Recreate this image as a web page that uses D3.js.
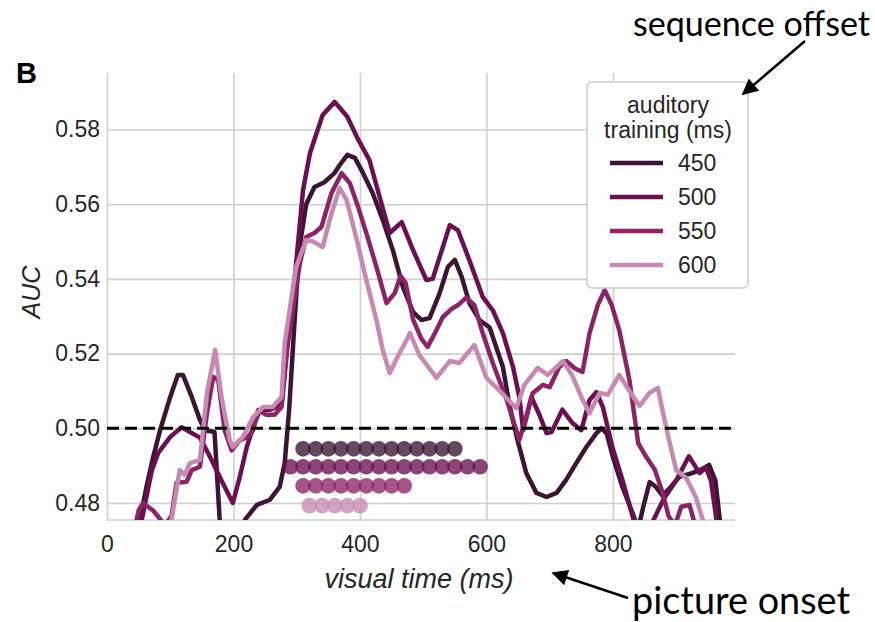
<!DOCTYPE html>
<html>
<head>
<meta charset="utf-8">
<script src="https://cdn.jsdelivr.net/npm/d3@7"></script>
<style>
  body { margin: 0; background: #fff; }
  svg { display: block; }
</style>
</head>
<body>
<svg id="chart" width="875" height="622"></svg>
<script>
// auditory training durations (legend entries)
const trainings = ["450", "500", "550", "600"];
const lineColors = ["#3b1531", "#6a1050", "#8a2466", "#c689b2"];

// AUC over visual time, [ms, auc]
const auc450 = [[40,0.465],[52,0.4755],[62,0.484],[73,0.4923],[84,0.4995],[100,0.5084],[112,0.5143],[120,0.5143],[134,0.5084],[147,0.5022],[155,0.4995],[170,0.499],[178,0.476],[186,0.465],
  [210,0.465],[218,0.4755],[237,0.4795],[257,0.4808],[273,0.4843],[281,0.4907],[288,0.505],[296,0.527],[304,0.548],[315,0.560],[328,0.5646],[344,0.5659],[360,0.5684],[368,0.5705],[380,0.5732],[392,0.5724],[404,0.5686],[420,0.563],[436,0.5558],[452,0.5477],[468,0.5378],[484,0.5311],[497,0.529],[510,0.5295],[526,0.5362],[539,0.5432],[550,0.5451],[561,0.5405],[573,0.5335],[589,0.529],[605,0.527],[626,0.5164],[637,0.5057],[649,0.4969],[663,0.488],[679,0.4827],[695,0.4816],[711,0.4827],[726,0.4862],[742,0.4907],[758,0.495],[774,0.4987],[782,0.5],[790,0.4987],[800,0.4923],[815,0.4843],[831,0.4773],[840,0.473],[848,0.479],[858,0.4856],[868,0.4843],[878,0.482],[890,0.484],[905,0.487],[925,0.488],[940,0.489],[952,0.4902],[962,0.486],[970,0.474],[980,0.465]];
const auc500 = [[45,0.465],[55,0.4755],[71,0.4888],[81,0.4934],[100,0.4977],[118,0.5003],[131,0.499],[147,0.4975],[163,0.4923],[181,0.486],[199,0.480],[210,0.487],[221,0.495],[231,0.5003],[242,0.505],[258,0.505],[268,0.5057],[277,0.508],[284,0.521],[297,0.5405],[310,0.5638],[321,0.5737],[341,0.5839],[360,0.5874],[380,0.5834],[396,0.5777],[415,0.5718],[431,0.562],[447,0.5523],[466,0.5552],[484,0.5477],[505,0.5397],[515,0.540],[542,0.5544],[555,0.553],[573,0.545],[594,0.5352],[610,0.5316],[626,0.5255],[642,0.5164],[652,0.5084],[658,0.4995],[671,0.5084],[684,0.5035],[695,0.4987],[703,0.499],[720,0.505],[736,0.5014],[750,0.4995],[763,0.5076],[774,0.5097],[784,0.5057],[799,0.495],[815,0.4862],[831,0.4765],[845,0.468],[860,0.474],[880,0.481],[900,0.486],[920,0.4925],[937,0.488],[947,0.4895],[955,0.486],[965,0.474],[975,0.465]];
const auc550 = [[40,0.470],[50,0.478],[57,0.480],[73,0.478],[92,0.474],[102,0.4765],[110,0.4854],[126,0.4857],[134,0.4888],[147,0.4897],[158,0.504],[168,0.5138],[176,0.5129],[186,0.4995],[197,0.4941],[210,0.4968],[223,0.4977],[231,0.4995],[239,0.5049],[252,0.5036],[265,0.5036],[276,0.5057],[286,0.5228],[305,0.5442],[315,0.5512],[328,0.5523],[339,0.5539],[355,0.563],[371,0.5683],[384,0.5656],[397,0.5593],[412,0.5512],[426,0.5432],[442,0.5335],[455,0.5362],[464,0.5408],[472,0.539],[484,0.5291],[497,0.524],[507,0.5218],[520,0.526],[531,0.5298],[545,0.532],[555,0.533],[568,0.535],[581,0.533],[594,0.5255],[610,0.5175],[632,0.5076],[652,0.4969],[663,0.503],[673,0.5094],[689,0.5116],[700,0.511],[715,0.5164],[726,0.518],[740,0.516],[752,0.5151],[763,0.5255],[776,0.533],[787,0.537],[798,0.533],[810,0.5263],[826,0.513],[840,0.496],[852,0.4925],[866,0.489],[878,0.483],[888,0.4765],[898,0.474],[908,0.479],[921,0.4795],[930,0.474],[940,0.468]];
const auc600 = [[90,0.468],[102,0.4755],[115,0.4888],[123,0.4875],[131,0.4907],[147,0.4915],[158,0.5094],[171,0.521],[181,0.5084],[194,0.4968],[199,0.495],[215,0.4977],[231,0.503],[247,0.5057],[262,0.5057],[276,0.5084],[281,0.5228],[299,0.5432],[315,0.5504],[326,0.550],[341,0.5485],[355,0.5576],[368,0.5643],[379,0.5611],[395,0.5504],[410,0.5397],[426,0.529],[436,0.521],[447,0.5148],[462,0.520],[474,0.5237],[479,0.5255],[494,0.5196],[521,0.5135],[542,0.518],[557,0.5175],[581,0.5223],[600,0.5135],[621,0.51],[647,0.5054],[660,0.5116],[681,0.5162],[697,0.5143],[721,0.518],[736,0.514],[750,0.5084],[763,0.504],[779,0.5095],[792,0.509],[810,0.5143],[826,0.510],[842,0.506],[858,0.5095],[871,0.5108],[884,0.5003],[900,0.4888],[916,0.4867],[931,0.4816],[942,0.4755],[950,0.468]];

// significant time points (ms) and the AUC level each dot row sits at
const sig450 = [310,330,350,370,390,410,430,450,470,490,510,530,550];
const sig500 = [290,310,330,350,370,390,410,430,450,470,490,510,530,550,570,590];
const sig550 = [310,330,350,370,390,410,430,450,470];
const sig600 = [320,340,360,380,400];
const sigLevels = [0.4945, 0.4897, 0.4846, 0.4793];

const xTicks = [0, 200, 400, 600, 800];
const yTicks = [0.48, 0.50, 0.52, 0.54, 0.56, 0.58];
const chance = 0.50;

const series = [auc450, auc500, auc550, auc600];
const sigRows = [sig450, sig500, sig550, sig600];

// plot box
const plotL = 107, plotR = 735, plotT = 73, plotB = 520;
const font = "'Liberation Sans', Arial, sans-serif";

const svg = d3.select("#chart");

const x = d3.scaleLinear().domain([0, 993]).range([plotL, plotR]);
const y = d3.scaleLinear().domain([0.47545, 0.59513]).range([plotB, plotT]);

// grid + tick labels
const gx = svg.append("g")
  .attr("transform", `translate(0,${plotB})`)
  .call(d3.axisBottom(x).tickValues(xTicks).tickFormat(d3.format("d"))
    .tickSizeInner(-(plotB - plotT)).tickSizeOuter(0).tickPadding(16));
const gy = svg.append("g")
  .attr("transform", `translate(${plotL},0)`)
  .call(d3.axisLeft(y).tickValues(yTicks).tickFormat(d3.format(".2f"))
    .tickSizeInner(-(plotR - plotL)).tickSizeOuter(0).tickPadding(7));

[gx, gy].forEach(g => {
  g.select(".domain").remove();
  g.selectAll(".tick line").attr("stroke", "#cfcfcf").attr("stroke-width", 1.6);
  g.selectAll(".tick text")
    .attr("fill", "#262626")
    .style("font-family", font)
    .style("font-size", "23px");
});

// bottom spine
svg.append("line")
  .attr("x1", plotL).attr("x2", plotR)
  .attr("y1", plotB).attr("y2", plotB)
  .attr("stroke", "#cfcfcf").attr("stroke-width", 1.6);

// clip for the curves
svg.append("clipPath").attr("id", "plot-clip")
  .append("rect")
  .attr("x", plotL).attr("y", plotT)
  .attr("width", plotR - plotL).attr("height", plotB - plotT);

const line = d3.line()
  .x(d => x(d[0]))
  .y(d => y(d[1]));

svg.append("g")
  .attr("clip-path", "url(#plot-clip)")
  .selectAll("path")
  .data(series)
  .join("path")
  .attr("d", line)
  .attr("fill", "none")
  .attr("stroke", (d, i) => lineColors[i])
  .attr("stroke-width", 4.5)
  .attr("stroke-linejoin", "round");

// chance level
svg.append("line")
  .attr("x1", plotL).attr("x2", plotR)
  .attr("y1", y(chance)).attr("y2", y(chance))
  .attr("stroke", "#000")
  .attr("stroke-width", 3)
  .attr("stroke-dasharray", "12,6");

// significance dots
sigRows.forEach((row, i) => {
  svg.append("g")
    .selectAll("circle")
    .data(row)
    .join("circle")
    .attr("cx", d => x(d))
    .attr("cy", y(sigLevels[i]))
    .attr("r", 7.8)
    .attr("fill", lineColors[i])
    .attr("fill-opacity", 0.78);
});

// legend
const lg = svg.append("g");
lg.append("rect")
  .attr("x", 587).attr("y", 82)
  .attr("width", 161).attr("height", 206)
  .attr("rx", 5)
  .attr("fill", "#fff")
  .attr("stroke", "#cccccc")
  .attr("stroke-width", 1.5);
lg.selectAll("text.title")
  .data(["auditory", "training (ms)"])
  .join("text")
  .attr("class", "title")
  .attr("x", 668)
  .attr("y", (d, i) => 113 + i * 25)
  .attr("text-anchor", "middle")
  .attr("fill", "#262626")
  .style("font-family", font)
  .style("font-size", "23px")
  .text(d => d);
const items = lg.selectAll("g.item")
  .data(trainings)
  .join("g")
  .attr("class", "item")
  .attr("transform", (d, i) => `translate(0,${163 + i * 34})`);
items.append("line")
  .attr("x1", 610).attr("x2", 663)
  .attr("stroke", (d, i) => lineColors[i])
  .attr("stroke-width", 4.5);
items.append("text")
  .attr("x", 678)
  .attr("dy", "0.36em")
  .attr("fill", "#262626")
  .style("font-family", font)
  .style("font-size", "23px")
  .text(d => d);

// axis titles and panel letter
svg.append("text")
  .attr("x", 419).attr("y", 588)
  .attr("text-anchor", "middle")
  .attr("fill", "#262626")
  .style("font-family", font)
  .style("font-size", "27px")
  .style("font-style", "italic")
  .text("visual time (ms)");
svg.append("text")
  .attr("transform", "translate(40,292) rotate(-90)")
  .attr("text-anchor", "middle")
  .attr("fill", "#262626")
  .style("font-family", font)
  .style("font-size", "25px")
  .style("font-style", "italic")
  .text("AUC");
svg.append("text")
  .attr("x", 16).attr("y", 83)
  .attr("fill", "#000")
  .style("font-family", font)
  .style("font-size", "29px")
  .style("font-weight", "bold")
  .text("B");

// annotations with arrows
svg.append("defs").append("marker")
  .attr("id", "head")
  .attr("viewBox", "0 0 10 10")
  .attr("refX", 9).attr("refY", 5)
  .attr("markerUnits", "userSpaceOnUse")
  .attr("markerWidth", 20).attr("markerHeight", 16)
  .attr("orient", "auto")
  .append("path")
  .attr("d", "M0,0 L10,5 L0,10 z")
  .attr("fill", "#000");

const notes = [
  { text: "sequence offset", tx: 633, ty: 36, w: 237, from: [805, 41], to: [743, 94] },
  { text: "picture onset", tx: 632, ty: 614, w: 218, from: [628, 598], to: [553, 573] }
];
notes.forEach(n => {
  const t = svg.append("text")
    .attr("x", n.tx).attr("y", n.ty)
    .attr("fill", "#000")
    .style("font-family", "Lato, 'Open Sans', sans-serif")
    .style("font-size", "30px")
    .text(n.text);
  const len = t.node().getComputedTextLength();
  t.style("font-size", (30 * n.w / len).toFixed(2) + "px");
  svg.append("line")
    .attr("x1", n.from[0]).attr("y1", n.from[1])
    .attr("x2", n.to[0]).attr("y2", n.to[1])
    .attr("stroke", "#000")
    .attr("stroke-width", 2.5)
    .attr("marker-end", "url(#head)");
});
</script>
</body>
</html>
